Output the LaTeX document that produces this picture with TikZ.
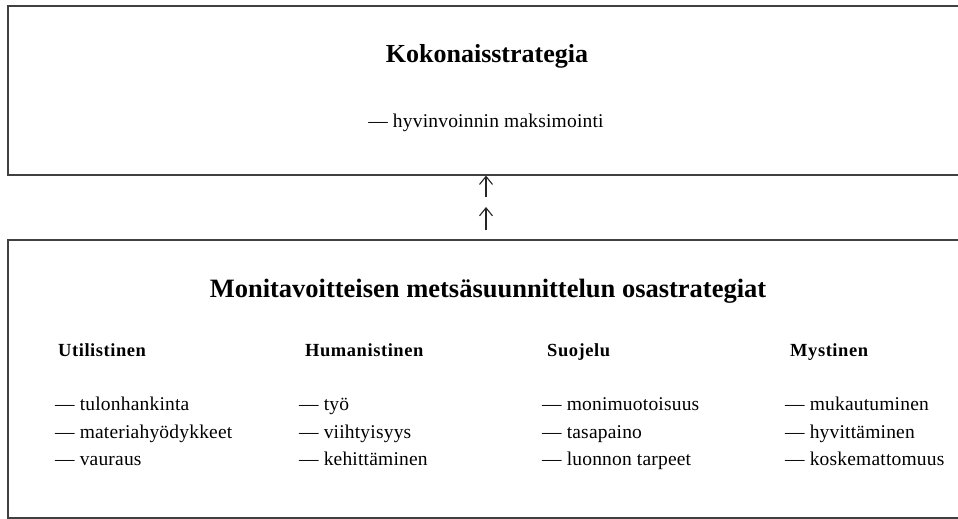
\documentclass[tikz,border=0pt]{standalone}
\usepackage{fontspec}
\setmainfont{Liberation Serif}
\usetikzlibrary{arrows.meta,positioning}

\begin{document}
\begin{tikzpicture}[
    x=1pt, y=-1pt,
    frame/.style={draw=black!75, line width=1.6pt, anchor=north west,
        inner sep=0pt, minimum width=1000pt},
    maintitle/.style={anchor=base, inner sep=0pt,
        font=\fontsize{26}{30}\selectfont\bfseries},
    heading/.style={anchor=base west, inner sep=0pt,
        font=\fontsize{18.5}{22}\selectfont\bfseries\addfontfeature{LetterSpace=3}},
    item/.style={anchor=base west, inner sep=0pt,
        font=\fontsize{19.5}{23}\selectfont\addfontfeature{LetterSpace=1}},
    flow/.style={-{Straight Barb[length=8pt,width=13pt]}, line width=1.1pt, draw=black!85}
]
\useasboundingbox (0,0) rectangle (958,519);
\clip (0,0) rectangle (958,519);

\node[frame, minimum height=169pt] (strategy) at (7,5) {};
\node[frame, minimum height=278pt] (substrategies) at (7,239) {};

\node[maintitle] (total) at (487,63) {Kokonaisstrategia};
\node[item, anchor=base] (welfare) at (486,127) {— hyvinvoinnin maksimointi};

\coordinate (tail1) at (486,197);
\coordinate (head2) at (486,207);
\coordinate (tail2) at (486,230);
\draw[flow] (tail1) -- (tail1 |- strategy.south);
\draw[flow] (tail2) -- (head2);

\node[maintitle, font=\fontsize{26.5}{30}\selectfont\bfseries] (partial) at (488,297) {Monitavoitteisen metsäsuunnittelun osastrategiat};

\node[heading] (util) at (58,356) {Utilistinen};
\node[item] (util1) at (55,410) {— tulonhankinta};
\node[item] (util2) at (55,438) {— materiahyödykkeet};
\node[item] (util3) at (55,465) {— vauraus};

\node[heading] (human) at (305,356) {Humanistinen};
\node[item] (human1) at (299,410) {— työ};
\node[item] (human2) at (299,438) {— viihtyisyys};
\node[item] (human3) at (299,465) {— kehittäminen};

\node[heading] (protect) at (547,356) {Suojelu};
\node[item] (protect1) at (542,410) {— monimuotoisuus};
\node[item] (protect2) at (542,438) {— tasapaino};
\node[item] (protect3) at (542,465) {— luonnon tarpeet};

\node[heading] (mystic) at (790,356) {Mystinen};
\node[item] (mystic1) at (785,410) {— mukautuminen};
\node[item] (mystic2) at (785,438) {— hyvittäminen};
\node[item] (mystic3) at (785,465) {— koskemattomuus};
\end{tikzpicture}
\end{document}
